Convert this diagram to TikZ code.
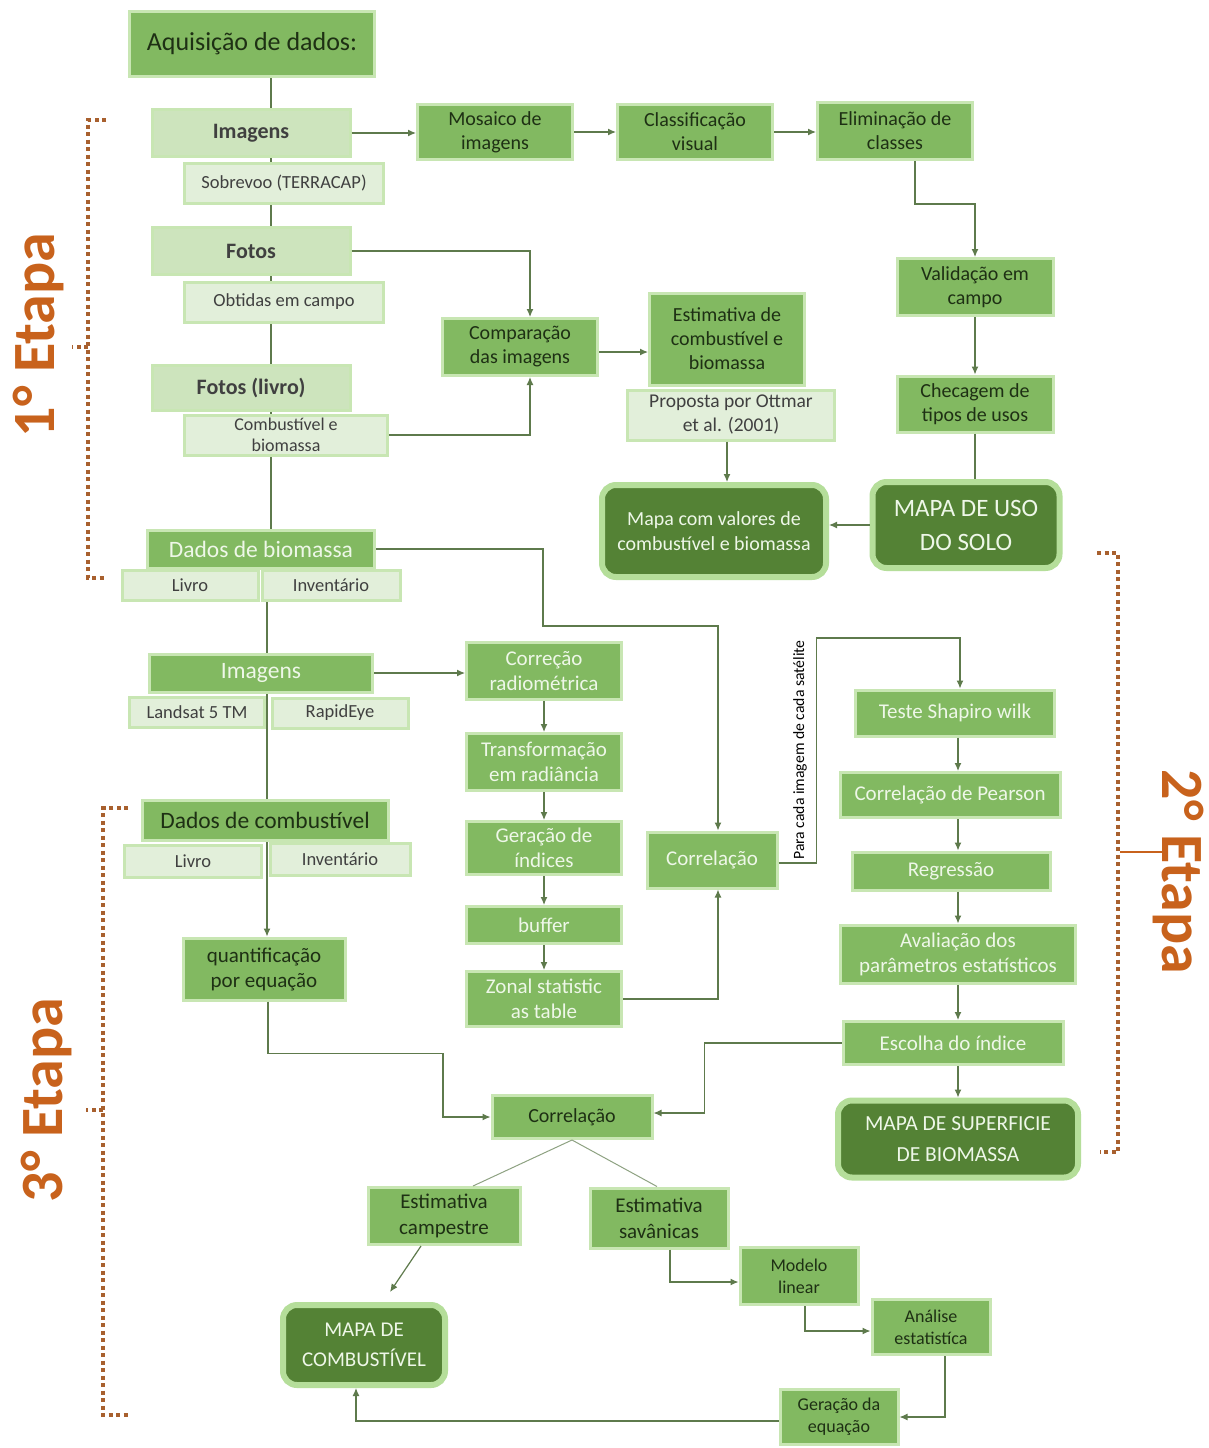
\documentclass[tikz,border=0pt]{standalone}
\usepackage{fontspec}
\setmainfont{Carlito}
\usetikzlibrary{arrows.meta,backgrounds}
\definecolor{midg}{HTML}{82B961}
\definecolor{darkg}{HTML}{548235}
\definecolor{paleg}{HTML}{CDE4BD}
\definecolor{subg}{HTML}{E2EFDA}
\definecolor{glowg}{HTML}{C8E6B3}
\definecolor{glowd}{HTML}{B5DE9A}
\definecolor{linec}{HTML}{5E7A4C}
\definecolor{orng}{HTML}{C8621C}
\definecolor{dotc}{HTML}{A8602E}
\definecolor{darktxt}{HTML}{1E3014}
\definecolor{lighttxt}{HTML}{EEF7E8}
\definecolor{graytxt}{HTML}{404040}
\tikzset{
 box/.style={rectangle, inner sep=0pt, align=center, draw=glowg, line width=3pt},
 midd/.style={box, fill=midg, text=darktxt, font=\fontsize{20}{24}\selectfont},
 midl/.style={box, fill=midg, text=lighttxt, font=\fontsize{21}{25}\selectfont},
 pale/.style={box, fill=paleg, text=graytxt, font=\bfseries\fontsize{22}{26}\selectfont},
 subb/.style={box, fill=subg, text=graytxt, font=\fontsize{18.5}{21}\selectfont},
 mapbox/.style={rectangle, rounded corners=14pt, inner sep=0pt, align=center, fill=darkg, draw=glowd, line width=6pt, text=lighttxt, font=\fontsize{21}{31}\selectfont},
 conn/.style={draw=linec, line width=1.2pt},
 arr/.style={conn, -{Latex[length=8pt,width=7pt]}},
 thinc/.style={draw=linec!70, line width=1pt},
 dots/.style={draw=dotc, line width=4pt, dash pattern=on 4pt off 3.5pt},
 etapa/.style={text=orng, font=\bfseries\fontsize{60}{60}\selectfont},
}
\begin{document}
\begin{tikzpicture}[x=1pt,y=-1pt]
\useasboundingbox (0,0) rectangle (1209,1448);

% ---- first stage nodes
\node[midd, minimum width=245pt, minimum height=65pt, font=\fontsize{26}{30}\selectfont] (aq) at (252,44) {Aquisição de dados:};
\node[pale, minimum width=198pt, minimum height=47pt] (img1) at (251,133) {Imagens};
\node[subb, minimum width=199pt, minimum height=40pt] (sobre) at (284,183) {Sobrevoo (TERRACAP)};
\node[pale, minimum width=198pt, minimum height=47pt] (fotos) at (251,251) {Fotos};
\node[subb, minimum width=199pt, minimum height=40pt] (obt) at (284,302) {Obtidas em campo};
\node[pale, minimum width=198pt, minimum height=45pt] (flivro) at (251,388) {Fotos (livro)};
\node[subb, minimum width=203pt, minimum height=40pt, font=\fontsize{18}{21}\selectfont] (cb) at (286,435) {Combustível e\\biomassa};

\node[midd, minimum width=155pt, minimum height=55pt] (mosaico) at (495,132) {Mosaico de\\imagens};
\node[midd, minimum width=155pt, minimum height=55pt] (classif) at (695,132) {Classificação\\visual};
\node[midd, minimum width=155pt, minimum height=57pt] (elim) at (895,131) {Eliminação de\\classes};
\node[midd, minimum width=156pt, minimum height=57pt] (valid) at (975,287) {Validação em\\campo};
\node[midd, minimum width=156pt, minimum height=56pt] (checagem) at (975,404) {Checagem de\\tipos de usos};
\node[mapbox, minimum width=187pt, minimum height=86pt, font=\fontsize{25}{34}\selectfont] (mapauso) at (966,525) {MAPA DE USO\\DO SOLO};
\node[mapbox, minimum width=224pt, minimum height=92pt, font=\fontsize{20}{25}\selectfont] (mapacomb) at (714,531) {Mapa com valores de\\combustível e biomassa};
\node[midd, minimum width=155pt, minimum height=57pt] (comparacao) at (520,347) {Comparação\\das imagens};
\node[midd, minimum width=155pt, minimum height=92pt] (estim) at (727,339) {Estimativa de\\combustível e\\biomassa};
\node[subb, minimum width=207pt, minimum height=50pt, font=\fontsize{19.5}{24}\selectfont] (proposta) at (731,415) {Proposta por Ottmar\\et al. (2001)};

% ---- second stage nodes
\node[midl, minimum width=227pt, minimum height=38pt, font=\fontsize{23.5}{26}\selectfont] (dadosbio) at (261,549) {Dados de biomassa};
\node[subb, minimum width=136pt, minimum height=30pt] (biolivro) at (190,585) {Livro};
\node[subb, minimum width=138pt, minimum height=30pt] (bioinv) at (331,585) {Inventário};
\node[midl, minimum width=223pt, minimum height=38pt, font=\fontsize{23.5}{26}\selectfont] (img2) at (261,673) {Imagens};
\node[subb, minimum width=135pt, minimum height=30pt] (landsat) at (197,712) {Landsat 5 TM};
\node[subb, minimum width=136pt, minimum height=30pt] (rapid) at (340,713) {RapidEye};
\node[midl, minimum width=155pt, minimum height=57pt] (correcao) at (544,671) {Correção\\radiométrica};
\node[midl, minimum width=155pt, minimum height=57pt] (transf) at (544,762) {Transformação\\em radiância};
\node[midl, minimum width=155pt, minimum height=53pt] (geracao) at (544,848) {Geração de\\índices};
\node[midl, minimum width=155pt, minimum height=37pt] (buffer) at (544,925) {buffer};
\node[midl, minimum width=155pt, minimum height=55pt] (zonal) at (544,999) {Zonal statistic\\as table};
\node[midl, minimum width=130pt, minimum height=56pt] (correl1) at (712,860) {Correlação};
\node[midl, minimum width=199pt, minimum height=46pt] (teste) at (955,713) {Teste Shapiro wilk};
\node[midl, minimum width=220pt, minimum height=45pt] (pearson) at (950,795) {Correlação de Pearson};
\node[midl, minimum width=198pt, minimum height=38pt] (regressao) at (951,871) {Regressão};
\node[midl, minimum width=235pt, minimum height=58pt] (avaliacao) at (958,954) {Avaliação dos\\parâmetros estatísticos};
\node[midl, minimum width=220pt, minimum height=43pt] (escolha) at (953,1043) {Escolha do índice};
\node[mapbox, minimum width=240pt, minimum height=77pt, font=\fontsize{21.5}{31}\selectfont] (mapasup) at (958,1139) {MAPA DE SUPERFICIE\\DE BIOMASSA};
\node[rotate=90, font=\fontsize{15.7}{16}\selectfont, text=black] (lbl) at (800,750) {Para cada imagem de cada satélite};

% ---- third stage nodes
\node[midd, minimum width=246pt, minimum height=40pt, font=\fontsize{23.5}{26}\selectfont] (dadoscomb) at (265,820) {Dados de combustível};
\node[subb, minimum width=137pt, minimum height=32pt] (clivro) at (193,861) {Livro};
\node[subb, minimum width=140pt, minimum height=32pt] (cinv) at (340,859) {Inventário};
\node[midd, minimum width=162pt, minimum height=62pt, font=\fontsize{21}{25}\selectfont] (quant) at (264,969) {quantificação\\por equação};
\node[midd, minimum width=160pt, minimum height=43pt] (correl2) at (572,1117) {Correlação};
\node[midd, minimum width=152pt, minimum height=57pt, font=\fontsize{21}{26}\selectfont] (estcamp) at (444,1216) {Estimativa\\campestre};
\node[midd, minimum width=138pt, minimum height=60pt, font=\fontsize{21}{26}\selectfont] (estsav) at (659,1218) {Estimativa\\savânicas};
\node[mapbox, minimum width=162pt, minimum height=80pt, font=\fontsize{21}{30}\selectfont] (mapacomb2) at (364,1345) {MAPA DE\\COMBUSTÍVEL};
\node[midd, minimum width=118pt, minimum height=57pt, font=\fontsize{18}{22}\selectfont] (modelo) at (799,1276) {Modelo\\linear};
\node[midd, minimum width=118pt, minimum height=55pt, font=\fontsize{18}{22}\selectfont] (analise) at (931,1327) {Análise\\estatistíca};
\node[midd, minimum width=118pt, minimum height=55pt, font=\fontsize{18}{22}\selectfont] (geracao2) at (839,1417) {Geração da\\equação};

% ---- background and trunk line
\begin{pgfonlayer}{background}
\fill[white] (0,0) rectangle (1209,1448);
\draw[conn] ([xshift=19pt]aq.south) -- ([xshift=10pt]dadosbio.north);
\draw[arr] ([xshift=6pt]dadosbio.south) -- ([xshift=3pt]quant.north);
\end{pgfonlayer}

% ---- connectors
\draw[arr] (img1.east) -- (img1.east -| mosaico.west);
\draw[arr] (mosaico.east) -- (mosaico.east -| classif.west);
\draw[arr] (classif.east) -- (classif.east -| elim.west);
\draw[arr] ([xshift=20pt]elim.south) -- ++(0,43) -| (valid.north);
\draw[arr] (valid.south) -- (checagem.north);
\draw[conn] (checagem.south) -- (checagem.south |- mapauso.north);
\draw[arr] (mapauso.west) -- (mapauso.west -| mapacomb.east);
\draw[arr] (fotos.east) -| ([xshift=10pt]comparacao.north);
\draw[arr] (cb.east) -| ([xshift=10pt]comparacao.south);
\draw[arr] ([yshift=-5pt]comparacao.east) -- ([yshift=-5pt]comparacao.east -| estim.west);
\draw[arr] ([xshift=-4pt]proposta.south) -- ([xshift=-4pt]proposta.south |- mapacomb.north);

\draw[arr] (dadosbio.east) -- ++(167,0) -- ++(0,77) -| ([xshift=6pt]correl1.north);
\draw[arr] (img2.east) -- (img2.east -| correcao.west);
\draw[arr] (correcao) -- (transf);
\draw[arr] (transf) -- (geracao);
\draw[arr] (geracao) -- (buffer);
\draw[arr] (buffer) -- (zonal);
\draw[arr] (zonal.east) -| ([xshift=6pt]correl1.south);
\draw[arr] ([yshift=-3pt]correl1.east) -- ++(38,0) -- ++(0,-225) -| ([xshift=5pt]teste.north);
\draw[arr] (teste.south -| mapasup.north) -- (pearson.north -| mapasup.north);
\draw[arr] (pearson.south -| mapasup.north) -- (regressao.north -| mapasup.north);
\draw[arr] (regressao.south -| mapasup.north) -- (avaliacao.north -| mapasup.north);
\draw[arr] (avaliacao.south -| mapasup.north) -- (escolha.north -| mapasup.north);
\draw[arr] (escolha.south -| mapasup.north) -- (mapasup.north);
\draw[arr] (escolha.west) -- ++(-137,0) |- ([yshift=4pt]correl2.east);

\draw[arr] ([xshift=4pt]quant.south) -- ++(0,52) -- ++(175,0) |- (correl2.west);
\draw[thinc] (correl2.south) -- ([xshift=29pt]estcamp.north);
\draw[thinc] (correl2.south) -- ([xshift=-2pt]estsav.north);
\draw[arr] ([xshift=-23pt]estcamp.south) -- ([xshift=26pt,yshift=10pt]mapacomb2.north);
\draw[arr] ([xshift=11pt]estsav.south) |- ([yshift=-6pt]modelo.west);
\draw[arr] ([xshift=6pt]modelo.south) |- ([yshift=-4pt]analise.west);
\draw[arr] ([xshift=14pt]analise.south) |- (geracao2.east);
\draw[arr] ([yshift=-4pt]geracao2.west) -| ([xshift=-8pt]mapacomb2.south);

% ---- stage brackets
\draw[dots] (106,120) -- (88,120) -- (88,578) -- (106,578);
\draw[dots] (88,347) -- (72,347);
\node[etapa, rotate=90] (e1) at (38,335) {1° Etapa};
\draw[dots] (128,808) -- (103,808) -- (103,1415) -- (128,1415);
\draw[dots] (103,1110) -- (86,1110);
\node[etapa, rotate=90] (e3) at (46,1100) {3° Etapa};
\draw[dots] (1097,553) -- (1118,553) -- (1118,1152) -- (1100,1152);
\draw[draw=orng, line width=2pt] (1120,852) -- (1162,852);
\node[etapa, rotate=-90] (e2) at (1178,872) {2° Etapa};
\end{tikzpicture}
\end{document}
